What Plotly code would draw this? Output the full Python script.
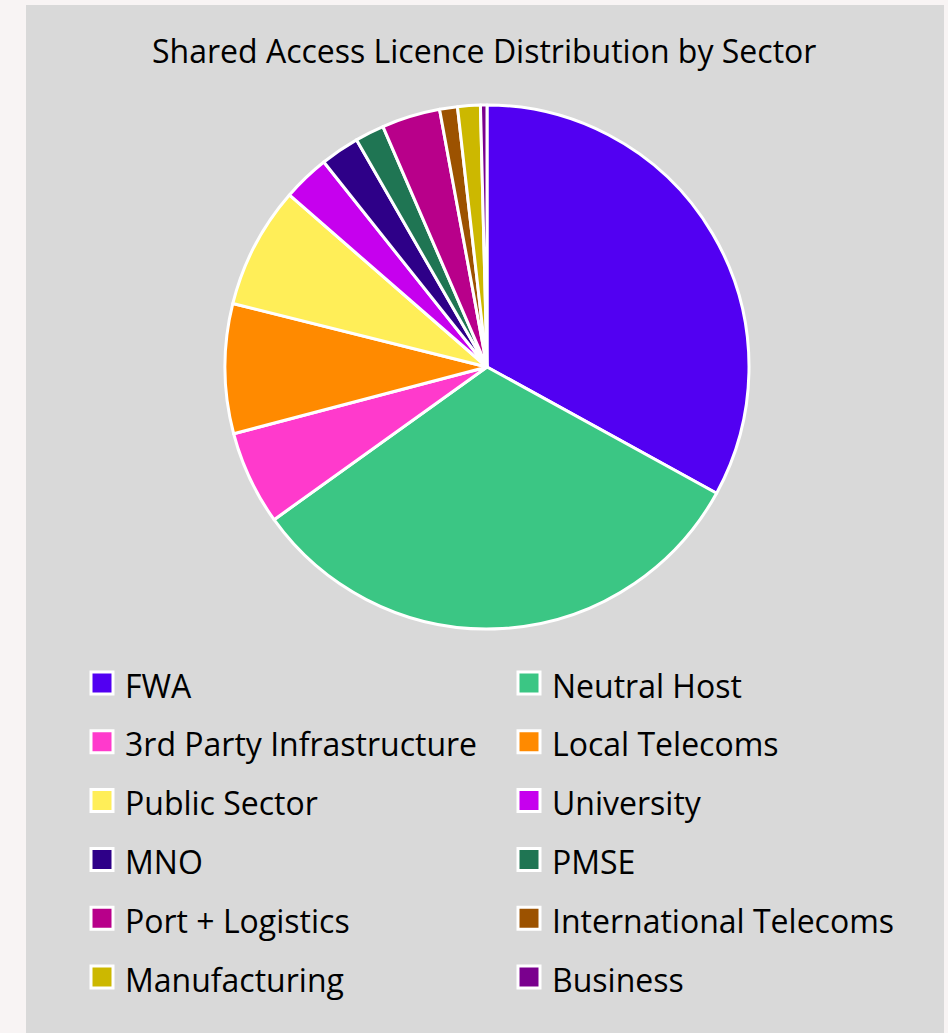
import plotly.graph_objects as go

W, H = 948, 1033

sectors = ["FWA", "Neutral Host", "3rd Party Infrastructure", "Local Telecoms",
           "Public Sector", "University", "MNO", "PMSE", "Port + Logistics",
           "International Telecoms", "Manufacturing", "Business"]
shares = [33.0, 32.1, 5.8, 8.0, 7.5, 2.9, 2.4, 1.8, 3.6, 1.1, 1.4, 0.4]
colors = ["#5200F2", "#3BC684", "#FF3ACC", "#FF8A00", "#FFEE58", "#C600EE",
          "#2E0088", "#1F7553", "#B8008A", "#9C5200", "#CCB800", "#7A008E"]
title_text = "Shared Access Licence Distribution by Sector"
FONT = "Open Sans"


def px_x(x):
    return x / W


def px_y(y):
    return 1 - y / H


cx, cy, r = 487, 367, 262

fig = go.Figure()
fig.add_trace(go.Pie(
    labels=sectors, values=shares, sort=False, direction="clockwise",
    rotation=0, textinfo="none", hoverinfo="label+percent",
    marker=dict(colors=colors, line=dict(color="white", width=3)),
    domain=dict(x=[px_x(cx - r), px_x(cx + r)], y=[px_y(cy + r), px_y(cy - r)]),
    showlegend=False,
))

shapes = [dict(type="rect", xref="paper", yref="paper", layer="below",
               x0=px_x(26), x1=px_x(944), y0=px_y(1040), y1=px_y(5),
               fillcolor="#D9D9D9", line=dict(width=0))]
annotations = [dict(text=title_text, xref="paper", yref="paper",
                    x=px_x(484), y=px_y(50), xanchor="center", yanchor="middle",
                    showarrow=False, font=dict(family=FONT, size=32, color="black"))]

col_marker_x = [102, 529]
col_text_x = [123, 550]
row_y0, row_gap = 683, 58.8
half = 11
for i, (name, col) in enumerate(zip(sectors, colors)):
    row, c = divmod(i, 2)
    y = row_y0 + row * row_gap
    mx = col_marker_x[c]
    shapes.append(dict(type="rect", xref="paper", yref="paper",
                       x0=px_x(mx - half), x1=px_x(mx + half),
                       y0=px_y(y + half), y1=px_y(y - half),
                       fillcolor=col, line=dict(color="white", width=3)))
    annotations.append(dict(text=name, xref="paper", yref="paper",
                            x=px_x(col_text_x[c]), y=px_y(y + 2),
                            xanchor="left", yanchor="middle", showarrow=False,
                            font=dict(family=FONT, size=32, color="black")))

fig.update_layout(
    width=W, height=H, margin=dict(l=0, r=0, t=0, b=0),
    paper_bgcolor="#F8F4F4", plot_bgcolor="#F8F4F4",
    shapes=shapes, annotations=annotations, showlegend=False,
)

fig.write_html("out.html", config={"displayModeBar": False},
               post_script="document.body.style.margin='0';"
                           "document.body.style.background='#F8F4F4';")
